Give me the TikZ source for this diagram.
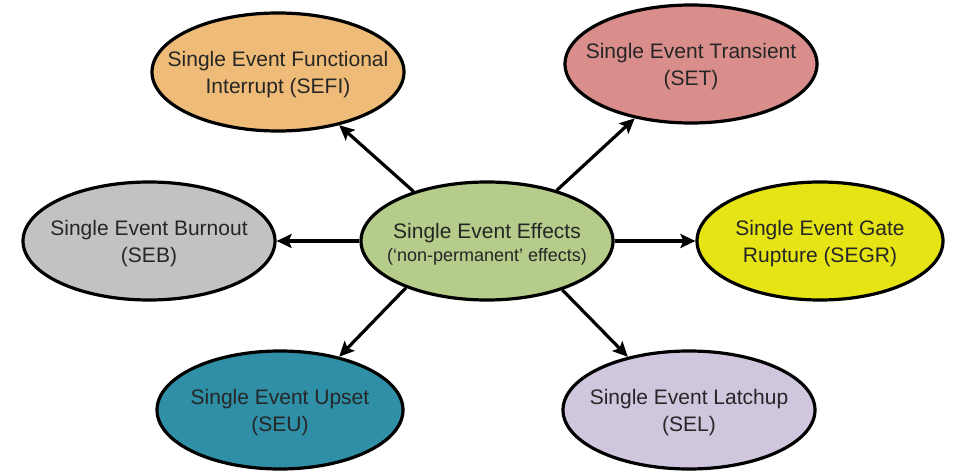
\documentclass[tikz,border=0pt]{standalone}
\usepackage{fontspec}
\setmainfont{Liberation Sans}
\usetikzlibrary{shapes.geometric,arrows.meta}
\definecolor{csefi}{HTML}{EEBC78}
\definecolor{cset}{HTML}{D98E8B}
\definecolor{cseb}{HTML}{C2C2C2}
\definecolor{csee}{HTML}{B5CC8A}
\definecolor{csegr}{HTML}{E6E414}
\definecolor{cseu}{HTML}{2E8FA6}
\definecolor{csel}{HTML}{D0C6DE}
\begin{document}
\begin{tikzpicture}[x=1pt,y=-1pt,
  ell/.style={ellipse,draw=black,line width=3.2pt,minimum width=252pt,minimum height=118pt,inner sep=0pt,
    label={[align=center,font=\fontsize{21}{27}\selectfont,text=black!85,yshift=-3pt]center:#1}},
  arr/.style={line width=3.2pt,-{Stealth[length=15pt,width=14pt,inset=3pt]}}]
\useasboundingbox (0,0) rectangle (953,476);
\node[ell={Single Event Functional\\Interrupt (SEFI)},fill=csefi] (sefi) at (278,72) {};
\node[ell={Single Event Transient\\(SET)},fill=cset] (set) at (691,64) {};
\node[ell={Single Event Burnout\\(SEB)},fill=cseb] (seb) at (149,241) {};
\node[ell={Single Event Effects\\[-4pt]{\fontsize{18}{22}\selectfont(`non-permanent' effects)}},fill=csee] (see) at (487,241) {};
\node[ell={Single Event Gate\\Rupture (SEGR)},fill=csegr,minimum width=246pt] (segr) at (820,241) {};
\node[ell={Single Event Upset\\(SEU)},fill=cseu,minimum width=246pt] (seu) at (280,410) {};
\node[ell={Single Event Latchup\\(SEL)},fill=csel] (sel) at (689,410) {};
\draw[arr] (see.146) -- (sefi.319);
\draw[arr] (see.36) -- (set.224);
\draw[arr] (see.west) -- (seb.east);
\draw[arr] (see.east) -- (segr.west);
\draw[arr] (see.210) -- (seu.42);
\draw[arr] (see.327) -- (sel.139);
\end{tikzpicture}
\end{document}
